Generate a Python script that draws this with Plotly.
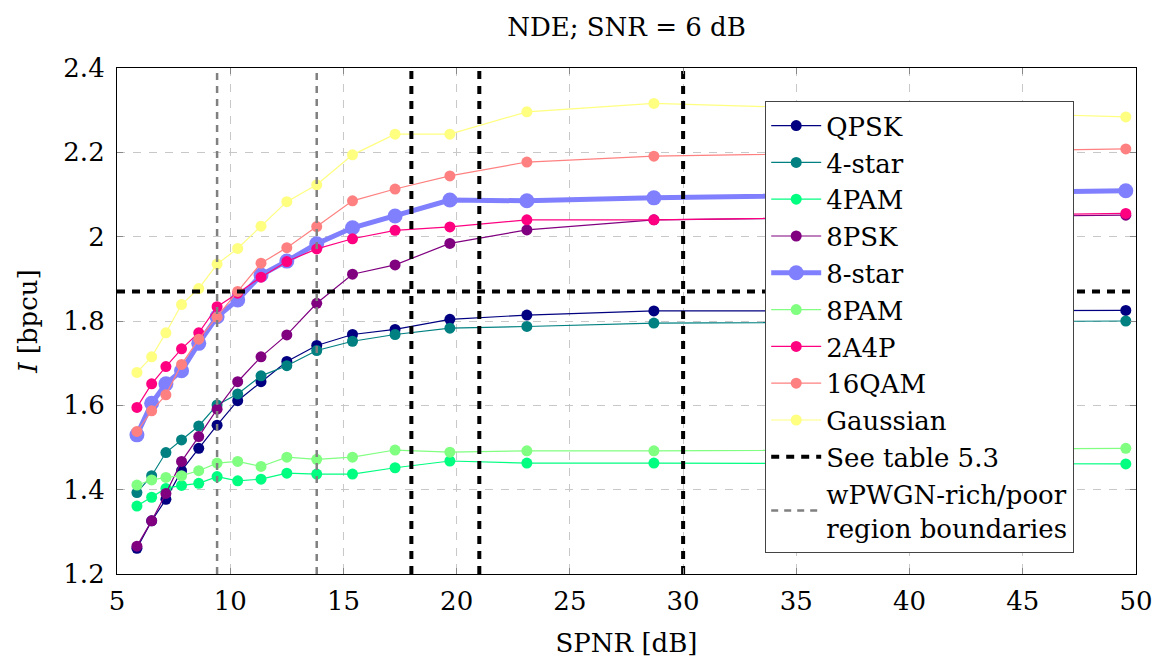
import plotly.graph_objects as go

# ---------------- data ----------------
spnr = [5.88, 6.53, 7.16, 7.85, 8.61, 9.42, 10.33, 11.36, 12.50, 13.82,
        15.40, 17.28, 19.70, 23.10, 28.71, 49.55]

qpsk = [1.261, 1.326, 1.377, 1.445, 1.498, 1.553, 1.611, 1.656, 1.704, 1.742,
        1.768, 1.780, 1.804, 1.814, 1.824, 1.825]
star4 = [1.393, 1.433, 1.488, 1.518, 1.551, 1.601, 1.627, 1.670, 1.694, 1.730,
         1.752, 1.768, 1.783, 1.787, 1.795, 1.800]
pam4 = [1.361, 1.382, 1.403, 1.410, 1.415, 1.431, 1.421, 1.425, 1.439, 1.437,
        1.437, 1.452, 1.468, 1.463, 1.463, 1.461]
psk8 = [1.266, 1.326, 1.391, 1.467, 1.526, 1.591, 1.656, 1.715, 1.767, 1.842,
        1.911, 1.933, 1.984, 2.016, 2.040, 2.051]
star8 = [1.530, 1.605, 1.651, 1.682, 1.747, 1.810, 1.850, 1.909, 1.942, 1.983,
         2.021, 2.049, 2.087, 2.085, 2.092, 2.109]
pam8 = [1.411, 1.423, 1.429, 1.433, 1.445, 1.463, 1.467, 1.455, 1.477, 1.472,
        1.477, 1.494, 1.489, 1.492, 1.492, 1.498]
a4p2 = [1.595, 1.651, 1.692, 1.734, 1.772, 1.834, 1.866, 1.904, 1.941, 1.971,
        1.995, 2.015, 2.023, 2.040, 2.040, 2.055]
qam16 = [1.538, 1.587, 1.625, 1.697, 1.757, 1.809, 1.870, 1.937, 1.974, 2.024,
         2.085, 2.113, 2.144, 2.177, 2.191, 2.208]
gauss = [1.678, 1.715, 1.772, 1.839, 1.877, 1.935, 1.972, 2.025, 2.083, 2.123,
         2.194, 2.243, 2.243, 2.296, 2.316, 2.284]

series_names = ["QPSK", "4-star", "4PAM", "8PSK", "8-star", "8PAM", "2A4P", "16QAM", "Gaussian"]
series_values = [qpsk, star4, pam4, psk8, star8, pam8, a4p2, qam16, gauss]
series_colors = ["#000080", "#008080", "#00ff80", "#800080", "#8080ff",
                 "#80ff80", "#ff0080", "#ff8080", "#ffff80"]

table_threshold_I = 1.87
table_threshold_spnr = [18.0, 21.0, 30.0]
region_boundaries = [9.42, 13.82]

x_range = [5, 50]
y_range = [1.2, 2.4]

FONT = "DejaVu Serif"

fig = go.Figure()

for name, vals, col in zip(series_names, series_values, series_colors):
    thick = name == "8-star"
    fig.add_trace(go.Scatter(
        x=spnr, y=vals, name=name, mode="lines+markers",
        line=dict(color=col, width=5 if thick else 1.2),
        marker=dict(color=col, size=15 if thick else 11),
    ))

# black dotted "See table 5.3" lines
bx, by = [], []
bx += [x_range[0], x_range[1], None]
by += [table_threshold_I, table_threshold_I, None]
for v in table_threshold_spnr:
    bx += [v, v, None]
    by += [y_range[0], y_range[1], None]
fig.add_trace(go.Scatter(
    x=bx, y=by, mode="lines", name="See table 5.3",
    line=dict(color="black", width=4, dash="8px,7px"),
))

# gray dashed region boundaries
gx, gy = [], []
for v in region_boundaries:
    gx += [v, v, None]
    gy += [y_range[0], y_range[1], None]
fig.add_trace(go.Scatter(
    x=gx, y=gy, mode="lines", name="wPWGN-rich/poor<br>region boundaries",
    line=dict(color="#808080", width=2.5, dash="7px,6px"),
))

axis_common = dict(
    showline=True, linecolor="black", linewidth=1.2, mirror="ticks",
    ticks="inside", ticklen=6, tickcolor="#888888", tickwidth=1,
    showgrid=True, gridcolor="#c8c8c8", gridwidth=1, griddash="8px,8px",
    zeroline=False, automargin=False,
    tickfont=dict(family=FONT, size=26, color="black"),
)

fig.update_layout(
    width=1154, height=658,
    margin=dict(l=117, r=18, t=68, b=84),
    paper_bgcolor="white", plot_bgcolor="white",
    title=dict(text="NDE; SNR = 6 dB", x=(117 + 1136) / 2 / 1154, xanchor="center",
               y=1 - 27 / 658, yanchor="middle", yref="container",
               font=dict(family=FONT, size=26, color="black")),
    xaxis=dict(range=x_range, dtick=5, tick0=5, ticklabelstandoff=4,
               title=dict(text="SPNR [dB]", standoff=18,
                          font=dict(family=FONT, size=26, color="black")),
               **axis_common),
    yaxis=dict(range=y_range, dtick=0.2, tick0=1.2, tickformat="~g",
               ticklabelstandoff=6,
               title=dict(text="<i>I</i> [bpcu]", standoff=18,
                          font=dict(family=FONT, size=26, color="black")),
               **axis_common),
    legend=dict(x=(765 - 117) / (1136 - 117), y=(574 - 101) / (574 - 68),
                xanchor="left", yanchor="top",
                bgcolor="white", bordercolor="#444444", borderwidth=1.2,
                font=dict(family=FONT, size=26, color="black"),
                itemwidth=50, tracegroupgap=0),
    showlegend=True,
)

fig.write_html("out.html")
